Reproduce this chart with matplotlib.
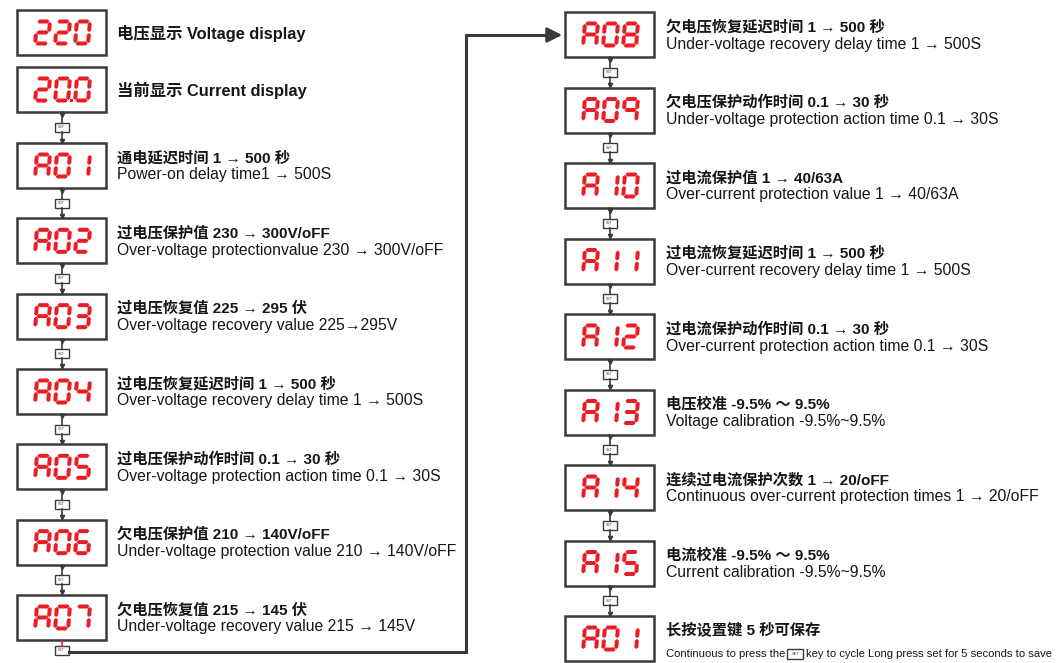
import numpy as np
import matplotlib.pyplot as plt
from matplotlib.patches import Rectangle, Polygon

# menu items, left column
left_codes = ["220", "20.0", "A01", "A02", "A03", "A04", "A05", "A06", "A07"]
left_cn = ["电压显示", "当前显示", "通电延迟时间 1 → 500 秒", "过电压保护值 230 → 300V/oFF",
           "过电压恢复值 225 → 295 伏", "过电压恢复延迟时间 1 → 500 秒",
           "过电压保护动作时间 0.1 → 30 秒", "欠电压保护值 210 → 140V/oFF",
           "欠电压恢复值 215 → 145 伏"]
left_en = ["Voltage display", "Current display", "Power-on delay time1 → 500S",
           "Over-voltage protectionvalue 230 → 300V/oFF",
           "Over-voltage recovery value 225→295V",
           "Over-voltage recovery delay time 1 → 500S",
           "Over-voltage protection action time 0.1 → 30S",
           "Under-voltage protection value 210 → 140V/oFF",
           "Under-voltage recovery value 215 → 145V"]

# right column
right_codes = ["A08", "A09", "A10", "A11", "A12", "A13", "A14", "A15", "A01"]
right_cn = ["欠电压恢复延迟时间 1 → 500 秒", "欠电压保护动作时间 0.1 → 30 秒",
            "过电流保护值 1 → 40/63A", "过电流恢复延迟时间 1 → 500 秒",
            "过电流保护动作时间 0.1 → 30 秒", "电压校准 -9.5% ～ 9.5%",
            "连续过电流保护次数 1 → 20/oFF", "电流校准 -9.5% ～ 9.5%",
            "长按设置键 5 秒可保存"]
right_en = ["Under-voltage recovery delay time 1 → 500S",
            "Under-voltage protection action time 0.1 → 30S",
            "Over-current protection value 1 → 40/63A",
            "Over-current recovery delay time 1 → 500S",
            "Over-current protection action time 0.1 → 30S",
            "Voltage calibration -9.5%~9.5%",
            "Continuous over-current protection times 1 → 20/oFF",
            "Current calibration -9.5%~9.5%",
            None]
last_en = ("Continuous to press the", "key to cycle Long press set for 5 seconds to save")

SEGS = {'0': 'abcdef', '1': 'bc', '2': 'abdeg', '3': 'abcdg', '4': 'bcfg',
        '5': 'acdfg', '6': 'acdefg', '7': 'abc', '8': 'abcdefg', '9': 'abcfg',
        'A': 'abcefg'}

RED = '#ea1c24'
LINE = '#3a3a3a'
TXT = '#161616'
FONT = ['Liberation Sans', 'Noto Sans CJK SC', 'DejaVu Sans']

fig = plt.figure(figsize=(10.57, 6.63), dpi=100)
ax = fig.add_axes([0, 0, 1, 1])
ax.set_xlim(0, 1057)
ax.set_ylim(663, 0)
ax.axis('off')

BW, BH = 89, 45


def seven_seg(x0, y0, ch, w=17, h=26, t=4.0, slant=0.08):
    g = 0.5
    b = t / 2.5  # bevel
    def skew(pts):
        return [(x + (h - y) * slant + x0, y + y0) for x, y in pts]
    def hs(x1, x2, yc):
        return [(x1, yc), (x1 + b, yc - t / 2), (x2 - b, yc - t / 2),
                (x2, yc), (x2 - b, yc + t / 2), (x1 + b, yc + t / 2)]
    def vs(xc, y1, y2):
        return [(xc, y1), (xc + t / 2, y1 + b), (xc + t / 2, y2 - b),
                (xc, y2), (xc - t / 2, y2 - b), (xc - t / 2, y1 + b)]
    geo = {
        'a': hs(t / 2 + g, w - t / 2 - g, t / 2),
        'g': hs(t / 2 + g, w - t / 2 - g, h / 2),
        'd': hs(t / 2 + g, w - t / 2 - g, h - t / 2),
        'f': vs(t / 2, t / 2 + g, h / 2 - g),
        'b': vs(w - t / 2, t / 2 + g, h / 2 - g),
        'e': vs(t / 2, h / 2 + g, h - t / 2 - g),
        'c': vs(w - t / 2, h / 2 + g, h - t / 2 - g),
    }
    for s in SEGS[ch]:
        ax.add_patch(Polygon(skew(geo[s]), closed=True, color=RED, lw=0))


def display(bx, by, code):
    ax.add_patch(Rectangle((bx, by), BW, BH, facecolor='white', edgecolor=LINE, lw=1.8, zorder=1))
    chars = code.replace('.', '')
    dot_after = code.index('.') - 1 if '.' in code else -1
    for i, ch in enumerate(chars):
        cx = bx + 16 + i * 20
        seven_seg(cx, by + 9.5, ch)
        if i == dot_after:
            ax.add_patch(Rectangle((cx + 16.5, by + 31.5), 3.5, 3.5, color=RED, lw=0))


def set_key(cx, y1, y2):
    ym = (y1 + y2) / 2
    ax.plot([cx, cx], [y1, ym - 4.5], color=LINE, lw=1.2)
    ax.plot([cx, cx], [ym + 4.5, y2], color=LINE, lw=1.2)
    ax.add_patch(Rectangle((cx - 7, ym - 4.5), 14, 9, facecolor='white', edgecolor=LINE, lw=1.0))
    ax.text(cx, ym, "SET", fontsize=2.6, ha='center', va='center', color=LINE, family=FONT)
    for yy in (y1 + 2.5, y2 - 2.5):
        ax.plot(cx, yy, marker='v', ms=3, color=LINE)


def column(bx, tops, codes, cn, en, tx):
    for i, code in enumerate(codes):
        top = tops[i]
        display(bx, top, code)
        if i > 0 and tops[i] - tops[i - 1] > 65:
            set_key(bx + BW / 2, tops[i - 1] + BH, top)
        if i < 2 and bx < 100:
            ax.text(tx, top + BH / 2 + 1, cn[i] + " " + en[i], fontsize=11.8, va='center',
                    family=FONT, fontweight='bold', color=TXT)
            continue
        ax.text(tx, top + 15, cn[i], fontsize=11, va='center', family=FONT,
                fontweight='bold', color=TXT)
        if en[i] is not None:
            ax.text(tx, top + 32, en[i], fontsize=11.3, va='center', family=FONT, color=TXT)


left_tops = [10, 67] + list(143 + 75.33 * np.arange(7))
right_tops = list(12 + 75.5 * np.arange(9))

column(17, left_tops, left_codes, left_cn, left_en, 117)
column(565, right_tops, right_codes, right_cn, right_en, 666)

# bottom-left key and the link over to the right column
kx = 17 + BW / 2
ky = left_tops[-1] + BH
ax.plot([kx, kx], [ky, ky + 6], color=RED, lw=1.2)
ax.add_patch(Rectangle((kx - 7, ky + 6), 14, 9, facecolor='white', edgecolor=LINE, lw=1.0))
ax.text(kx, ky + 10.5, "SET", fontsize=2.6, ha='center', va='center', color=LINE, family=FONT)
ax.plot([kx + 7, 466, 466, 556], [ky + 12, ky + 12, 35, 35], color=LINE, lw=2.2,
        solid_joinstyle='miter')
ax.annotate("", xy=(565, 35), xytext=(550, 35),
            arrowprops=dict(arrowstyle='-|>,head_length=0.9,head_width=0.45', color=LINE, lw=2))

# last note with inline key icon
ty = right_tops[-1] + 38
t1 = ax.text(666, ty, last_en[0], fontsize=8.1, va='center', family=FONT, color=TXT)
fig.canvas.draw()
x_end = t1.get_window_extent().x1  # pixels == data x here
ax.add_patch(Rectangle((x_end + 2, ty - 5), 16, 10, facecolor='white', edgecolor=LINE, lw=1.0))
ax.text(x_end + 10, ty, "SET", fontsize=2.8, ha='center', va='center', color=LINE, family=FONT)
t2 = ax.text(x_end + 21, ty, last_en[1], fontsize=8.1, va='center', family=FONT, color=TXT)
fig.canvas.draw()
over = t2.get_window_extent().x1 - 1055
if over > 0:
    t2.set_fontsize(8.1 * (1055 - x_end - 21) / (1055 - x_end - 21 + over))

fig.savefig("out.png", dpi=100, facecolor='white')
